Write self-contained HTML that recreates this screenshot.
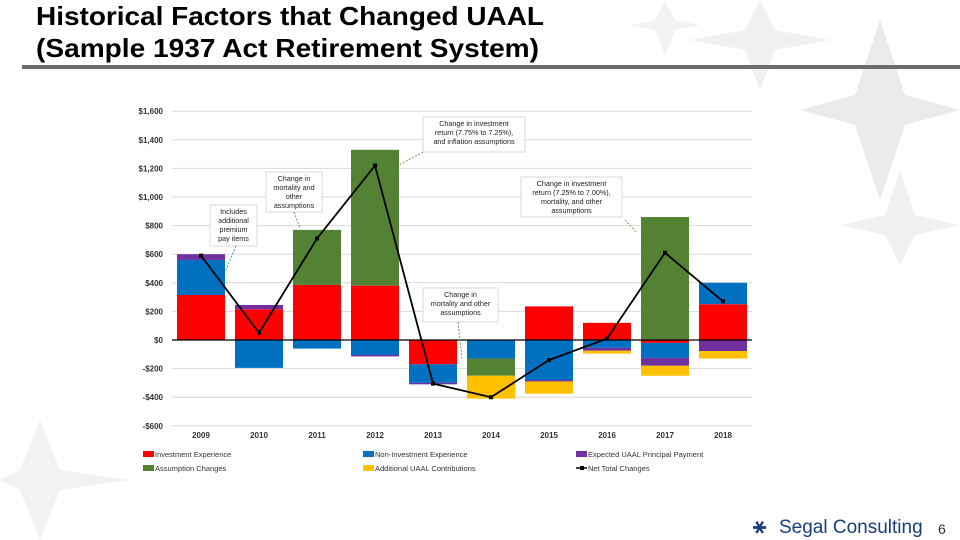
<!DOCTYPE html>
<html><head><meta charset="utf-8"><style>
html,body{margin:0;padding:0;background:#fff;}
svg{display:block;font-family:"Liberation Sans",Arial,sans-serif;}
</style></head><body>
<svg id="slide" width="960" height="540" viewBox="0 0 960 540">
  <g fill="#e6e6e6">
    <polygon points="880,20 905,95 960,110 905,125 880,200 855,125 800,110 855,95" opacity="0.8"/>
    <polygon points="760,0 775,30 830,40 775,50 760,90 745,50 690,40 745,30" opacity="0.6"/>
    <polygon points="665,0 675,20 700,25 675,30 665,55 655,30 630,25 655,20" opacity="0.5"/>
    <polygon points="900,170 915,215 960,225 915,235 900,265 885,235 840,225 885,215" opacity="0.6"/>
    <polygon points="40,420 60,470 130,480 60,490 40,540 20,490 0,480 20,470" opacity="0.5"/>
  </g>
  <text x="36" y="25" font-size="26" font-weight="bold" textLength="508" lengthAdjust="spacingAndGlyphs">Historical Factors that Changed UAAL</text>
  <text x="36" y="57" font-size="26" font-weight="bold" textLength="503" lengthAdjust="spacingAndGlyphs">(Sample 1937 Act Retirement System)</text>
  <rect x="22" y="65" width="938" height="4" fill="#6b6b6b"/>
  <rect x="130" y="93" width="622" height="390" fill="#fff"/>
  <g id="chart"></g>
  <g>
    <text x="753" y="533" font-size="22" fill="#1a3d7c" font-weight="bold">⚹</text>
    <text x="779" y="533" font-size="19" fill="#1a3d7c">Segal Consulting</text>
    <text x="938" y="534" font-size="14" fill="#333">6</text>
  </g>
</svg>
<script>
const categories = ["2009","2010","2011","2012","2013","2014","2015","2016","2017","2018"];
const investment = [315, 215, 385, 380, -170, 0, 235, 120, -20, 250];
const nonInvestment = [245, -195, -60, -105, -130, -130, -280, -55, -105, 150];
const principal = [40, 30, 0, -10, -10, 0, -10, -20, -55, -77];
const assumption = [0, 0, 385, 950, 0, -120, 0, 0, 860, 0];
const additional = [0, 0, 0, 0, 0, -160, -85, -20, -70, -53];
const netTotal = [590, 50, 710, 1220, -305, -400, -140, 10, 610, 270];
const yTicks = [-600, -400, -200, 0, 200, 400, 600, 800, 1000, 1200, 1400, 1600];
const yTickLabels = ["-$600","-$400","-$200","$0","$200","$400","$600","$800","$1,000","$1,200","$1,400","$1,600"];

const NS = "http://www.w3.org/2000/svg";
const g = document.getElementById("chart");
const x0 = 172, x1 = 752, band = (x1 - x0) / categories.length, barW = 48;
const y = v => 340 - v * (28.6 / 200);
const xc = i => x0 + band * (i + 0.5);
function mk(tag, attrs, parent) {
  const e = document.createElementNS(NS, tag);
  for (const k in attrs) e.setAttribute(k, attrs[k]);
  (parent || g).appendChild(e);
  return e;
}
yTicks.forEach((t, i) => {
  if (t !== 0 && t !== -600) {
    const l = mk("line", {x1: x0, x2: x1, y1: y(t), y2: y(t), stroke: "#d9d9d9", "stroke-width": 1});
    
    
  }
  const tx = mk("text", {x: 163, y: y(t) + 3, "font-size": 8, "font-weight": "bold", "text-anchor": "end", fill: "#333"});
  tx.textContent = yTickLabels[i];
  
  
});
const bottom = mk("line", {x1: x0, x2: x1, y1: y(-600), y2: y(-600), stroke: "#d9d9d9"});



const series = [
  {name: "investment", vals: investment, color: "#ff0000"},
  {name: "non-investment", vals: nonInvestment, color: "#0070c0"},
  {name: "principal", vals: principal, color: "#7030a0"},
  {name: "assumption", vals: assumption, color: "#548235"},
  {name: "additional", vals: additional, color: "#ffc000"}
];
categories.forEach((c, i) => {
  let pos = 0, neg = 0;
  series.forEach(s => {
    const v = s.vals[i];
    if (!v) return;
    let a, b;
    if (v > 0) { a = pos; b = pos + v; pos = b; } else { a = neg; b = neg + v; neg = b; }
    const r = mk("rect", {x: xc(i) - barW / 2, y: Math.min(y(a), y(b)), width: barW, height: Math.abs(y(a) - y(b)), fill: s.color});
    
    
  });
  const lab = mk("text", {x: xc(i), y: 438, "font-size": 8, "font-weight": "bold", "text-anchor": "middle", fill: "#333"});
  lab.textContent = c;
  
  
});
const zero = mk("line", {x1: x0, x2: x1, y1: y(0), y2: y(0), stroke: "#000", "stroke-width": 1.3});


const pl = mk("polyline", {points: netTotal.map((v, i) => xc(i) + "," + y(v)).join(" "), fill: "none", stroke: "#000", "stroke-width": 1.8});


netTotal.forEach((v, i) => {
  const p = mk("rect", {x: xc(i) - 2, y: y(v) - 2, width: 4, height: 4, fill: "#000"});
  
  
});

const notes = [
  {lines: ["Includes","additional","premium","pay items"], bx: 210, by: 205, bw: 47, bh: 41, ax1: 236, ay1: 246, ax2: 225, ay2: 272, c: "#2e75b6"},
  {lines: ["Change in","mortality and","other","assumptions"], bx: 266, by: 172, bw: 56, bh: 40, ax1: 294, ay1: 212, ax2: 300, ay2: 228, c: "#548235"},
  {lines: ["Change in investment","return (7.75% to 7.25%),","and inflation assumptions"], bx: 423, by: 117, bw: 102, bh: 35, ax1: 423, ay1: 152, ax2: 399, ay2: 165, c: "#548235"},
  {lines: ["Change in investment","return (7.25% to 7.00%),","mortality, and other","assumptions"], bx: 521, by: 177, bw: 101, bh: 40, ax1: 625, ay1: 220, ax2: 637, ay2: 233, c: "#548235"},
  {lines: ["Change in","mortality and other","assumptions"], bx: 423, by: 288, bw: 75, bh: 34, ax1: 458, ay1: 322, ax2: 462, ay2: 358, c: "#548235"}
];
notes.forEach(n => {
  const box = mk("rect", {x: n.bx, y: n.by, width: n.bw, height: n.bh, fill: "#fff", stroke: "#d0d0d0", "stroke-width": 0.8});
  
  
  n.lines.forEach((t, k) => {
    const tx = mk("text", {x: n.bx + n.bw / 2, y: n.by + 9 + k * 9, "font-size": 7.2, "text-anchor": "middle", fill: "#222"});
    tx.textContent = t;
    
    
  });
  const ar = mk("line", {x1: n.ax1, y1: n.ay1, x2: n.ax2, y2: n.ay2, stroke: n.c, "stroke-width": 0.8, "stroke-dasharray": "2,1.5"});
  
  
});

const legend = [
  {t: "Investment Experience", c: "#ff0000", x: 143, y: 455},
  {t: "Non-Investment Experience", c: "#0070c0", x: 363, y: 455},
  {t: "Expected UAAL Principal Payment", c: "#7030a0", x: 576, y: 455},
  {t: "Assumption Changes", c: "#548235", x: 143, y: 469},
  {t: "Additional UAAL Contributions", c: "#ffc000", x: 363, y: 469},
  {t: "Net Total Changes", c: null, x: 576, y: 469}
];
legend.forEach(l => {
  if (l.c) {
    const sw = mk("rect", {x: l.x, y: l.y - 4, width: 11, height: 6, fill: l.c});
    
    
  } else {
    const ln = mk("line", {x1: l.x, x2: l.x + 11, y1: l.y - 1, y2: l.y - 1, stroke: "#000", "stroke-width": 1.5});
    
    
    const dt = mk("rect", {x: l.x + 4, y: l.y - 3, width: 4, height: 4, fill: "#000"});
    
    
  }
  const tx = mk("text", {x: l.x + 12, y: l.y + 2, "font-size": 7.5, fill: "#333"});
  tx.textContent = l.t;
  
  
});
</script>
</body></html>
